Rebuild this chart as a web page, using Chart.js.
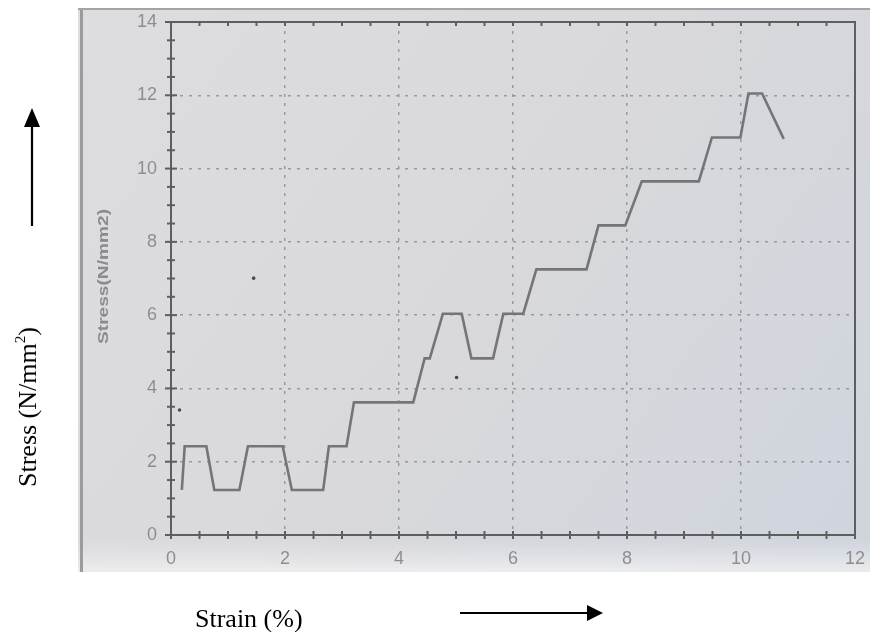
<!DOCTYPE html>
<html><head><meta charset="utf-8">
<script src="https://cdn.jsdelivr.net/npm/chart.js@4/dist/chart.umd.min.js"></script>
<style>
html,body{margin:0;padding:0;background:#fff;}
#wrap{position:relative;width:870px;height:632px;overflow:hidden;}
canvas{position:absolute;left:0;top:0;}
.outer{position:absolute;font-family:"Liberation Serif","Times New Roman",serif;font-size:26px;line-height:26px;color:#000;white-space:nowrap;}
.outer sup{font-size:15px;line-height:0;vertical-align:11px;}
#ylab{left:28px;top:407px;transform:translate(-50%,-50%) rotate(-90deg);}
#xlab{left:195px;top:606px;}
svg{position:absolute;left:0;top:0;}
</style></head><body>
<div id="wrap">
<canvas id="c" width="870" height="632"></canvas>
<div class="outer" id="ylab">Stress (N/mm<sup>2</sup>)</div>
<div class="outer" id="xlab">Strain (%)</div>
<svg width="870" height="632">
  <line x1="32" y1="226" x2="32" y2="122" stroke="#000" stroke-width="2.2"/>
  <polygon points="32,108 24,127 40,127" fill="#000"/>
  <line x1="460" y1="613" x2="590" y2="613" stroke="#000" stroke-width="2.2"/>
  <polygon points="603,613 587,605 587,621" fill="#000"/>
</svg>
</div>
<script>
// ---- data ----
const strainPct = [0.19,0.24,0.62,0.76,1.20,1.35,1.96,2.12,2.67,2.77,3.08,3.21,4.25,4.45,4.54,4.77,5.10,5.27,5.65,5.83,6.18,6.41,7.29,7.50,7.97,8.26,9.26,9.49,9.99,10.13,10.37,10.75];
const stressNmm2 = [1.23,2.42,2.42,1.23,1.23,2.42,2.42,1.23,1.23,2.42,2.42,3.62,3.62,4.82,4.82,6.04,6.04,4.82,4.82,6.04,6.04,7.25,7.25,8.45,8.45,9.65,9.65,10.85,10.85,12.05,12.05,10.81];
const speckX = [0.15, 1.45, 5.01];
const speckY = [3.41, 7.01, 4.30];
const xTicks = [0,2,4,6,8,10,12];
const yTicks = [0,2,4,6,8,10,12,14];
const innerYTitle = "Stress(N/mm2)";

const curve = strainPct.map((x,i)=>({x:x, y:stressNmm2[i]}));
const specks = speckX.map((x,i)=>({x:x, y:speckY[i]}));

const scanPlugin = {
  id:'scan',
  beforeDraw(chart){
    const ctx = chart.ctx;
    ctx.save();
    ctx.fillStyle = '#fff';
    ctx.fillRect(0,0,870,632);
    const g = ctx.createLinearGradient(80,10,860,570);
    g.addColorStop(0,'#dddddf');
    g.addColorStop(0.5,'#d9d9dc');
    g.addColorStop(1,'#cfd4dd');
    ctx.fillStyle = g;
    ctx.fillRect(78,8,792,564);
    const g2 = ctx.createLinearGradient(0,540,0,572);
    g2.addColorStop(0,'rgba(236,236,238,0)');
    g2.addColorStop(1,'rgba(240,240,241,0.85)');
    ctx.fillStyle = g2;
    ctx.fillRect(78,540,792,32);
    ctx.strokeStyle = '#9b9b9b';
    ctx.lineWidth = 3;
    ctx.beginPath(); ctx.moveTo(81.5,9); ctx.lineTo(81.5,572); ctx.stroke();
    ctx.strokeStyle = '#a4a4a4';
    ctx.lineWidth = 2;
    ctx.beginPath(); ctx.moveTo(78,9); ctx.lineTo(870,9); ctx.stroke();
    ctx.restore();
  },
  afterDraw(chart){
    const ctx = chart.ctx;
    const xs = chart.scales.x, ys = chart.scales.y;
    const L = xs.getPixelForValue(0), R = xs.getPixelForValue(12);
    const B = ys.getPixelForValue(0), T = ys.getPixelForValue(14);
    ctx.save();
    ctx.strokeStyle = '#5e5e5e';
    ctx.lineWidth = 2;
    ctx.beginPath();
    ctx.moveTo(L, T); ctx.lineTo(R, T); ctx.lineTo(R, B); ctx.lineTo(L, B); ctx.closePath();
    ctx.stroke();
    for (let v = 0; v <= 12.001; v += 0.5) {
      const px = xs.getPixelForValue(v);
      ctx.beginPath(); ctx.moveTo(px, B-4); ctx.lineTo(px, B+4); ctx.stroke();
      ctx.beginPath(); ctx.moveTo(px, T); ctx.lineTo(px, T+4); ctx.stroke();
    }
    for (let v = 0; v <= 14.001; v += 0.5) {
      const py = ys.getPixelForValue(v);
      const major = Math.abs(v/2 - Math.round(v/2)) < 1e-6;
      ctx.beginPath(); ctx.moveTo(L-(major?6:4), py); ctx.lineTo(L+(major?6:4), py); ctx.stroke();
    }
    ctx.translate(104, (T+B)/2 - 2);
    ctx.rotate(-Math.PI/2);
    ctx.font = 'bold 15px "Liberation Sans", Arial, sans-serif';
    const w = ctx.measureText(innerYTitle).width;
    ctx.scale(135/w, 1);
    ctx.fillStyle = '#8b8b8d';
    ctx.textAlign = 'center';
    ctx.textBaseline = 'middle';
    ctx.fillText(innerYTitle, 0, 0);
    ctx.restore();
  }
};

const tickFont = {family:'"Liberation Sans", Arial, sans-serif', size:18};

new Chart(document.getElementById('c'), {
  type:'scatter',
  data:{datasets:[
    {data:curve, showLine:true, borderColor:'#757577', borderWidth:2.6, pointRadius:0, tension:0, order:1},
    {data:specks, showLine:false, pointRadius:1.8, pointBorderWidth:0, backgroundColor:'#4a4a4a', order:2}
  ]},
  options:{
    responsive:false, animation:false, devicePixelRatio:1,
    layout:{padding:{left:88, right:15, top:22, bottom:0}},
    plugins:{legend:{display:false}, tooltip:{enabled:false}},
    scales:{
      x:{
        type:'linear', min:0, max:12,
        afterBuildTicks:s=>{ s.ticks = xTicks.map(v=>({value:v})); },
        afterFit:s=>{ s.height = 97; s.paddingRight = 0; s.paddingLeft = 0; },
        ticks:{color:'#8e8e90', font:tickFont, padding:13, maxRotation:0, autoSkip:false},
        grid:{color:'#9a9a9c', lineWidth:1.5, drawTicks:false},
        border:{display:false, dash:[3,6]}
      },
      y:{
        type:'linear', min:0, max:14,
        afterBuildTicks:s=>{ s.ticks = yTicks.map(v=>({value:v})); },
        afterFit:s=>{ s.width = 83; s.paddingTop = 0; s.paddingBottom = 0; },
        ticks:{color:'#8e8e90', font:tickFont, padding:14, autoSkip:false},
        grid:{color:'#9a9a9c', lineWidth:1.5, drawTicks:false},
        border:{display:false, dash:[3,6]}
      }
    }
  },
  plugins:[scanPlugin]
});
</script>
</body></html>
